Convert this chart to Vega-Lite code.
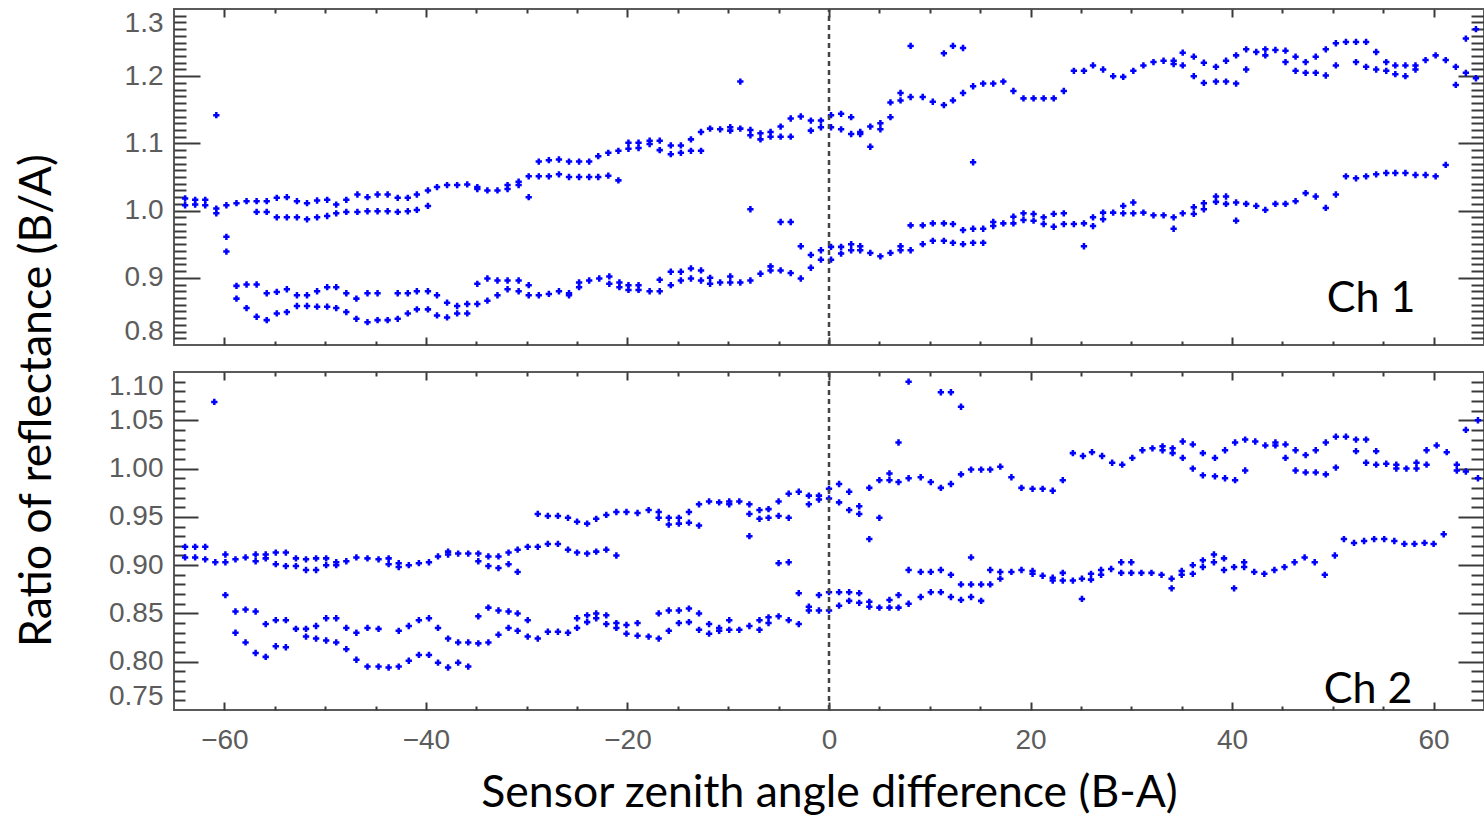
{
"$schema": "https://vega.github.io/schema/vega-lite/v6.json",
"background": "white",
"autosize": {"type": "pad"},
"padding": {"left": 13, "top": 6, "right": 0, "bottom": 0},
"config": {
  "view": {"stroke": "#5a5a5a", "strokeWidth": 2},
  "axis": {"domain": false, "grid": false, "labelFont": "Liberation Sans", "labelFontSize": 28, "labelColor": "#5c5c5c", "tickColor": "#3a3a3a", "tickWidth": 2, "titleFont": "Lato", "titleFontWeight": "normal", "titleColor": "#000000", "titleFontSize": 44.5}
},
"datasets": {
"ch1": [
{"x":-63.9,"y":1.018},{"x":-63.9,"y":1.008},{"x":-62.9,"y":1.016},{"x":-62.9,"y":1.009},{"x":-61.9,"y":1.016},{"x":-61.9,"y":1.008},{"x":-60.8,"y":1.003},{"x":-60.8,"y":0.996},{"x":-60.8,"y":1.142},{"x":-59.8,"y":1.008},{"x":-59.8,"y":0.961},{"x":-59.8,"y":0.939},{"x":-58.8,"y":1.011},{"x":-57.8,"y":1.014},{"x":-56.8,"y":1.014},{"x":-56.8,"y":0.998},{"x":-55.8,"y":1.014},{"x":-55.8,"y":0.998},{"x":-54.8,"y":1.019},{"x":-54.8,"y":0.990},{"x":-53.8,"y":1.020},{"x":-53.8,"y":0.990},{"x":-52.8,"y":1.014},{"x":-52.8,"y":0.990},{"x":-51.8,"y":1.011},{"x":-51.8,"y":0.987},{"x":-50.8,"y":1.015},{"x":-50.8,"y":0.990},{"x":-49.8,"y":1.016},{"x":-49.8,"y":0.992},{"x":-48.9,"y":1.009},{"x":-48.9,"y":0.996},{"x":-47.9,"y":1.016},{"x":-47.9,"y":0.998},{"x":-46.8,"y":1.024},{"x":-46.8,"y":0.998},{"x":-45.8,"y":1.020},{"x":-45.8,"y":0.999},{"x":-44.8,"y":1.024},{"x":-44.8,"y":0.999},{"x":-43.8,"y":1.024},{"x":-43.8,"y":0.999},{"x":-42.8,"y":1.019},{"x":-42.8,"y":0.998},{"x":-41.8,"y":1.019},{"x":-41.8,"y":0.999},{"x":-40.9,"y":1.024},{"x":-40.9,"y":1.001},{"x":-39.8,"y":1.030},{"x":-39.8,"y":1.007},{"x":-38.9,"y":1.035},{"x":-37.9,"y":1.038},{"x":-36.9,"y":1.038},{"x":-35.9,"y":1.039},{"x":-34.9,"y":1.035},{"x":-34.9,"y":1.032},{"x":-33.9,"y":1.030},{"x":-32.9,"y":1.030},{"x":-31.9,"y":1.038},{"x":-31.9,"y":1.032},{"x":-30.8,"y":1.043},{"x":-30.8,"y":1.038},{"x":-29.8,"y":1.051},{"x":-29.8,"y":1.020},{"x":-28.8,"y":1.073},{"x":-28.8,"y":1.051},{"x":-27.8,"y":1.075},{"x":-27.8,"y":1.051},{"x":-26.8,"y":1.076},{"x":-26.8,"y":1.054},{"x":-25.8,"y":1.073},{"x":-25.8,"y":1.050},{"x":-24.8,"y":1.073},{"x":-24.8,"y":1.050},{"x":-23.8,"y":1.073},{"x":-23.8,"y":1.050},{"x":-22.9,"y":1.081},{"x":-22.9,"y":1.050},{"x":-21.9,"y":1.086},{"x":-21.9,"y":1.052},{"x":-20.9,"y":1.089},{"x":-20.9,"y":1.045},{"x":-19.9,"y":1.101},{"x":-19.9,"y":1.092},{"x":-18.9,"y":1.101},{"x":-18.9,"y":1.093},{"x":-17.8,"y":1.104},{"x":-17.8,"y":1.099},{"x":-16.8,"y":1.104},{"x":-16.8,"y":1.090},{"x":-15.7,"y":1.097},{"x":-15.7,"y":1.084},{"x":-14.7,"y":1.097},{"x":-14.7,"y":1.086},{"x":-13.7,"y":1.106},{"x":-13.7,"y":1.089},{"x":-12.7,"y":1.117},{"x":-12.7,"y":1.089},{"x":-11.8,"y":1.122},{"x":-10.8,"y":1.121},{"x":-9.8,"y":1.124},{"x":-9.8,"y":1.119},{"x":-8.8,"y":1.122},{"x":-8.8,"y":1.192},{"x":-7.8,"y":1.120},{"x":-7.8,"y":1.112},{"x":-6.8,"y":1.115},{"x":-6.8,"y":1.106},{"x":-5.8,"y":1.117},{"x":-5.8,"y":1.110},{"x":-4.8,"y":1.125},{"x":-4.8,"y":1.110},{"x":-3.8,"y":1.137},{"x":-3.8,"y":1.110},{"x":-2.8,"y":1.140},{"x":-1.8,"y":1.134},{"x":-1.8,"y":1.119},{"x":-0.8,"y":1.134},{"x":-0.8,"y":1.124},{"x":0.2,"y":1.142},{"x":0.2,"y":1.124},{"x":1.2,"y":1.144},{"x":1.2,"y":1.121},{"x":2.2,"y":1.139},{"x":2.2,"y":1.114},{"x":3.1,"y":1.117},{"x":3.1,"y":1.114},{"x":4.1,"y":1.125},{"x":4.1,"y":1.095},{"x":5.1,"y":1.130},{"x":5.1,"y":1.121},{"x":6.1,"y":1.139},{"x":6.1,"y":1.161},{"x":7.1,"y":1.164},{"x":7.1,"y":1.175},{"x":8.1,"y":1.169},{"x":8.1,"y":1.245},{"x":9.3,"y":1.169},{"x":10.3,"y":1.162},{"x":11.4,"y":1.157},{"x":11.4,"y":1.234},{"x":12.3,"y":1.164},{"x":12.3,"y":1.245},{"x":13.3,"y":1.175},{"x":13.3,"y":1.242},{"x":14.3,"y":1.185},{"x":15.3,"y":1.189},{"x":16.3,"y":1.189},{"x":17.3,"y":1.192},{"x":18.3,"y":1.178},{"x":19.3,"y":1.167},{"x":20.3,"y":1.167},{"x":21.3,"y":1.167},{"x":22.3,"y":1.167},{"x":23.3,"y":1.178},{"x":24.3,"y":1.208},{"x":25.3,"y":1.208},{"x":26.2,"y":1.216},{"x":27.2,"y":1.210},{"x":28.2,"y":1.200},{"x":29.2,"y":1.199},{"x":30.2,"y":1.208},{"x":31.2,"y":1.216},{"x":32.2,"y":1.221},{"x":33.2,"y":1.223},{"x":34.2,"y":1.223},{"x":34.2,"y":1.218},{"x":35.1,"y":1.235},{"x":35.1,"y":1.216},{"x":36.2,"y":1.229},{"x":36.2,"y":1.200},{"x":37.2,"y":1.220},{"x":37.2,"y":1.190},{"x":38.4,"y":1.214},{"x":38.4,"y":1.192},{"x":39.4,"y":1.223},{"x":39.4,"y":1.192},{"x":40.4,"y":1.231},{"x":40.4,"y":1.189},{"x":41.4,"y":1.240},{"x":41.4,"y":1.210},{"x":42.4,"y":1.236},{"x":43.3,"y":1.240},{"x":43.3,"y":1.231},{"x":44.3,"y":1.239},{"x":45.3,"y":1.238},{"x":45.3,"y":1.221},{"x":46.3,"y":1.229},{"x":46.3,"y":1.208},{"x":47.3,"y":1.221},{"x":47.3,"y":1.205},{"x":48.3,"y":1.229},{"x":48.3,"y":1.205},{"x":49.3,"y":1.240},{"x":49.3,"y":1.201},{"x":50.3,"y":1.249},{"x":50.3,"y":1.216},{"x":51.3,"y":1.251},{"x":52.3,"y":1.251},{"x":52.3,"y":1.221},{"x":53.3,"y":1.251},{"x":53.3,"y":1.214},{"x":54.3,"y":1.236},{"x":54.3,"y":1.210},{"x":55.3,"y":1.221},{"x":55.3,"y":1.208},{"x":56.2,"y":1.216},{"x":56.2,"y":1.203},{"x":57.2,"y":1.216},{"x":57.2,"y":1.200},{"x":58.2,"y":1.216},{"x":58.2,"y":1.210},{"x":59.2,"y":1.224},{"x":60.2,"y":1.231},{"x":61.2,"y":1.224},{"x":62.2,"y":1.214},{"x":62.2,"y":1.187},{"x":63.2,"y":1.256},{"x":63.2,"y":1.205},{"x":64.2,"y":1.270},{"x":64.2,"y":1.197},
{"x":-58.8,"y":0.888},{"x":-58.8,"y":0.869},{"x":-57.8,"y":0.890},{"x":-57.8,"y":0.855},{"x":-56.8,"y":0.890},{"x":-56.8,"y":0.842},{"x":-55.8,"y":0.877},{"x":-55.8,"y":0.837},{"x":-54.8,"y":0.879},{"x":-54.8,"y":0.847},{"x":-53.8,"y":0.883},{"x":-53.8,"y":0.849},{"x":-52.8,"y":0.874},{"x":-52.8,"y":0.858},{"x":-51.8,"y":0.874},{"x":-51.8,"y":0.858},{"x":-50.8,"y":0.880},{"x":-50.8,"y":0.857},{"x":-49.8,"y":0.886},{"x":-49.8,"y":0.857},{"x":-48.9,"y":0.886},{"x":-48.9,"y":0.855},{"x":-47.9,"y":0.877},{"x":-47.9,"y":0.849},{"x":-46.9,"y":0.869},{"x":-46.9,"y":0.839},{"x":-45.8,"y":0.877},{"x":-45.8,"y":0.834},{"x":-44.8,"y":0.877},{"x":-44.8,"y":0.837},{"x":-43.8,"y":0.837},{"x":-42.8,"y":0.877},{"x":-42.8,"y":0.839},{"x":-41.8,"y":0.877},{"x":-41.8,"y":0.847},{"x":-40.9,"y":0.880},{"x":-40.9,"y":0.853},{"x":-39.8,"y":0.880},{"x":-39.8,"y":0.853},{"x":-38.9,"y":0.874},{"x":-38.9,"y":0.844},{"x":-37.9,"y":0.863},{"x":-37.9,"y":0.841},{"x":-36.9,"y":0.858},{"x":-36.9,"y":0.847},{"x":-35.9,"y":0.861},{"x":-35.9,"y":0.847},{"x":-34.9,"y":0.861},{"x":-34.9,"y":0.891},{"x":-33.9,"y":0.866},{"x":-33.9,"y":0.899},{"x":-32.9,"y":0.874},{"x":-32.9,"y":0.896},{"x":-31.9,"y":0.883},{"x":-31.9,"y":0.896},{"x":-30.8,"y":0.880},{"x":-30.8,"y":0.896},{"x":-29.8,"y":0.874},{"x":-29.8,"y":0.889},{"x":-28.8,"y":0.874},{"x":-27.8,"y":0.876},{"x":-26.8,"y":0.880},{"x":-25.8,"y":0.874},{"x":-25.8,"y":0.877},{"x":-24.8,"y":0.893},{"x":-24.8,"y":0.886},{"x":-23.8,"y":0.896},{"x":-22.8,"y":0.899},{"x":-21.8,"y":0.902},{"x":-21.8,"y":0.891},{"x":-20.8,"y":0.893},{"x":-20.8,"y":0.886},{"x":-19.9,"y":0.889},{"x":-19.9,"y":0.882},{"x":-18.9,"y":0.889},{"x":-18.9,"y":0.882},{"x":-17.8,"y":0.880},{"x":-16.8,"y":0.880},{"x":-16.8,"y":0.897},{"x":-15.7,"y":0.909},{"x":-15.7,"y":0.889},{"x":-14.7,"y":0.909},{"x":-14.7,"y":0.896},{"x":-13.7,"y":0.914},{"x":-13.7,"y":0.899},{"x":-12.7,"y":0.911},{"x":-12.7,"y":0.896},{"x":-11.8,"y":0.900},{"x":-11.8,"y":0.891},{"x":-10.8,"y":0.893},{"x":-9.8,"y":0.902},{"x":-9.8,"y":0.893},{"x":-8.8,"y":0.893},{"x":-7.8,"y":0.896},{"x":-7.8,"y":1.002},{"x":-6.8,"y":0.906},{"x":-5.8,"y":0.917},{"x":-5.8,"y":0.911},{"x":-4.8,"y":0.911},{"x":-4.8,"y":0.983},{"x":-3.8,"y":0.907},{"x":-3.8,"y":0.983},{"x":-2.8,"y":0.899},{"x":-2.8,"y":0.947},{"x":-1.8,"y":0.915},{"x":-1.8,"y":0.934},{"x":-0.8,"y":0.927},{"x":-0.8,"y":0.941},{"x":0.2,"y":0.927},{"x":0.2,"y":0.946},{"x":1.2,"y":0.936},{"x":1.2,"y":0.946},{"x":2.2,"y":0.941},{"x":2.2,"y":0.950},{"x":3.1,"y":0.941},{"x":3.1,"y":0.947},{"x":4.1,"y":0.937},{"x":5.1,"y":0.932},{"x":6.1,"y":0.937},{"x":7.1,"y":0.941},{"x":7.1,"y":0.947},{"x":8.1,"y":0.941},{"x":8.1,"y":0.978},{"x":9.3,"y":0.950},{"x":9.3,"y":0.978},{"x":10.3,"y":0.955},{"x":10.3,"y":0.981},{"x":11.4,"y":0.955},{"x":11.4,"y":0.981},{"x":12.3,"y":0.952},{"x":12.3,"y":0.980},{"x":13.3,"y":0.950},{"x":13.3,"y":0.971},{"x":14.3,"y":0.952},{"x":14.3,"y":0.973},{"x":14.3,"y":1.072},{"x":15.3,"y":0.952},{"x":15.3,"y":0.973},{"x":16.3,"y":0.977},{"x":16.3,"y":0.983},{"x":17.3,"y":0.981},{"x":18.3,"y":0.991},{"x":18.3,"y":0.981},{"x":19.3,"y":0.996},{"x":19.3,"y":0.986},{"x":20.3,"y":0.995},{"x":20.3,"y":0.985},{"x":21.3,"y":0.990},{"x":21.3,"y":0.980},{"x":22.3,"y":0.995},{"x":22.3,"y":0.976},{"x":23.3,"y":0.996},{"x":23.3,"y":0.980},{"x":24.3,"y":0.980},{"x":25.3,"y":0.981},{"x":25.3,"y":0.947},{"x":26.2,"y":0.990},{"x":26.2,"y":0.977},{"x":27.2,"y":0.997},{"x":27.2,"y":0.987},{"x":28.2,"y":0.997},{"x":29.2,"y":1.007},{"x":29.2,"y":0.996},{"x":30.2,"y":1.012},{"x":30.2,"y":0.996},{"x":31.2,"y":0.997},{"x":32.2,"y":0.993},{"x":33.2,"y":0.993},{"x":34.2,"y":0.990},{"x":34.2,"y":0.973},{"x":35.1,"y":0.996},{"x":36.2,"y":1.005},{"x":36.2,"y":0.995},{"x":37.2,"y":1.011},{"x":37.2,"y":1.002},{"x":38.4,"y":1.021},{"x":38.4,"y":1.013},{"x":39.4,"y":1.021},{"x":39.4,"y":1.010},{"x":40.4,"y":1.012},{"x":40.4,"y":0.985},{"x":41.4,"y":1.010},{"x":42.4,"y":1.007},{"x":43.3,"y":1.001},{"x":44.3,"y":1.010},{"x":45.3,"y":1.010},{"x":46.3,"y":1.014},{"x":47.3,"y":1.026},{"x":48.3,"y":1.021},{"x":49.3,"y":1.004},{"x":50.3,"y":1.024},{"x":51.3,"y":1.051},{"x":52.3,"y":1.048},{"x":53.3,"y":1.051},{"x":54.3,"y":1.054},{"x":55.3,"y":1.056},{"x":56.2,"y":1.056},{"x":57.2,"y":1.056},{"x":58.2,"y":1.053},{"x":59.2,"y":1.053},{"x":60.2,"y":1.051},{"x":61.2,"y":1.068}
],
"ch2": [
{"x":-63.9,"y":0.919},{"x":-63.9,"y":0.908},{"x":-62.9,"y":0.919},{"x":-62.9,"y":0.908},{"x":-61.9,"y":0.919},{"x":-61.9,"y":0.906},{"x":-61.0,"y":1.069},{"x":-60.9,"y":0.903},{"x":-59.9,"y":0.911},{"x":-59.9,"y":0.903},{"x":-59.9,"y":0.869},{"x":-58.9,"y":0.906},{"x":-57.9,"y":0.908},{"x":-56.9,"y":0.911},{"x":-56.9,"y":0.904},{"x":-55.9,"y":0.911},{"x":-55.9,"y":0.907},{"x":-54.9,"y":0.913},{"x":-54.9,"y":0.901},{"x":-53.9,"y":0.913},{"x":-53.9,"y":0.899},{"x":-52.9,"y":0.907},{"x":-52.9,"y":0.899},{"x":-51.9,"y":0.906},{"x":-51.9,"y":0.895},{"x":-50.9,"y":0.907},{"x":-50.9,"y":0.895},{"x":-49.9,"y":0.907},{"x":-49.9,"y":0.900},{"x":-48.9,"y":0.903},{"x":-48.9,"y":0.900},{"x":-47.9,"y":0.904},{"x":-46.9,"y":0.908},{"x":-45.8,"y":0.907},{"x":-44.7,"y":0.906},{"x":-43.7,"y":0.907},{"x":-43.7,"y":0.901},{"x":-42.7,"y":0.902},{"x":-42.7,"y":0.898},{"x":-41.7,"y":0.900},{"x":-40.7,"y":0.902},{"x":-39.7,"y":0.903},{"x":-38.8,"y":0.909},{"x":-37.8,"y":0.914},{"x":-37.8,"y":0.911},{"x":-36.8,"y":0.912},{"x":-35.8,"y":0.912},{"x":-34.8,"y":0.912},{"x":-34.8,"y":0.904},{"x":-33.8,"y":0.909},{"x":-33.8,"y":0.899},{"x":-32.8,"y":0.909},{"x":-32.8,"y":0.897},{"x":-31.8,"y":0.913},{"x":-31.8,"y":0.901},{"x":-30.9,"y":0.916},{"x":-30.9,"y":0.893},{"x":-29.9,"y":0.919},{"x":-28.9,"y":0.919},{"x":-28.9,"y":0.953},{"x":-27.9,"y":0.922},{"x":-27.9,"y":0.951},{"x":-26.9,"y":0.922},{"x":-26.9,"y":0.951},{"x":-25.9,"y":0.916},{"x":-25.9,"y":0.949},{"x":-25.0,"y":0.913},{"x":-25.0,"y":0.945},{"x":-24.0,"y":0.912},{"x":-24.0,"y":0.943},{"x":-23.1,"y":0.914},{"x":-23.1,"y":0.948},{"x":-22.1,"y":0.916},{"x":-22.1,"y":0.952},{"x":-21.1,"y":0.910},{"x":-21.1,"y":0.955},{"x":-20.1,"y":0.955},{"x":-19.0,"y":0.954},{"x":-17.9,"y":0.957},{"x":-16.9,"y":0.955},{"x":-16.9,"y":0.949},{"x":-15.9,"y":0.949},{"x":-15.9,"y":0.942},{"x":-14.9,"y":0.949},{"x":-14.9,"y":0.943},{"x":-13.9,"y":0.955},{"x":-13.9,"y":0.944},{"x":-12.9,"y":0.963},{"x":-12.9,"y":0.941},{"x":-11.9,"y":0.966},{"x":-10.9,"y":0.965},{"x":-9.9,"y":0.966},{"x":-9.9,"y":0.963},{"x":-8.9,"y":0.966},{"x":-7.9,"y":0.963},{"x":-7.9,"y":0.953},{"x":-7.9,"y":0.930},{"x":-6.9,"y":0.957},{"x":-6.9,"y":0.948},{"x":-6.0,"y":0.958},{"x":-6.0,"y":0.949},{"x":-5.0,"y":0.966},{"x":-5.0,"y":0.951},{"x":-5.0,"y":0.902},{"x":-4.0,"y":0.974},{"x":-4.0,"y":0.949},{"x":-4.0,"y":0.903},{"x":-3.0,"y":0.976},{"x":-2.0,"y":0.972},{"x":-2.0,"y":0.963},{"x":-1.0,"y":0.972},{"x":-1.0,"y":0.968},{"x":0.0,"y":0.979},{"x":0.0,"y":0.969},{"x":1.0,"y":0.984},{"x":1.0,"y":0.965},{"x":2.0,"y":0.976},{"x":2.0,"y":0.957},{"x":3.0,"y":0.961},{"x":3.0,"y":0.953},{"x":4.0,"y":0.980},{"x":4.0,"y":0.927},{"x":5.0,"y":0.988},{"x":5.0,"y":0.949},{"x":6.0,"y":0.995},{"x":6.0,"y":0.988},{"x":6.9,"y":0.986},{"x":6.9,"y":1.027},{"x":7.9,"y":0.990},{"x":7.9,"y":1.090},{"x":9.1,"y":0.991},{"x":10.1,"y":0.986},{"x":11.1,"y":0.980},{"x":11.1,"y":1.079},{"x":12.1,"y":0.984},{"x":12.1,"y":1.079},{"x":13.1,"y":0.994},{"x":13.1,"y":1.064},{"x":14.1,"y":0.999},{"x":15.1,"y":0.999},{"x":16.0,"y":0.999},{"x":17.0,"y":1.002},{"x":18.1,"y":0.991},{"x":19.1,"y":0.980},{"x":20.2,"y":0.979},{"x":21.2,"y":0.979},{"x":22.2,"y":0.977},{"x":23.2,"y":0.988},{"x":24.2,"y":1.016},{"x":25.2,"y":1.013},{"x":26.1,"y":1.017},{"x":27.1,"y":1.013},{"x":28.1,"y":1.006},{"x":29.1,"y":1.004},{"x":30.1,"y":1.011},{"x":31.1,"y":1.019},{"x":32.1,"y":1.021},{"x":33.1,"y":1.023},{"x":33.1,"y":1.019},{"x":34.1,"y":1.021},{"x":34.1,"y":1.016},{"x":35.1,"y":1.028},{"x":35.1,"y":1.011},{"x":36.1,"y":1.025},{"x":36.1,"y":1.000},{"x":37.1,"y":1.016},{"x":37.1,"y":0.993},{"x":38.3,"y":1.011},{"x":38.3,"y":0.992},{"x":39.3,"y":1.019},{"x":39.3,"y":0.990},{"x":40.3,"y":1.027},{"x":40.3,"y":0.988},{"x":41.3,"y":1.030},{"x":41.3,"y":0.998},{"x":42.3,"y":1.028},{"x":43.3,"y":1.024},{"x":44.3,"y":1.027},{"x":44.3,"y":1.024},{"x":45.3,"y":1.025},{"x":45.3,"y":1.011},{"x":46.3,"y":1.019},{"x":46.3,"y":0.998},{"x":47.3,"y":1.014},{"x":47.3,"y":0.996},{"x":48.3,"y":1.019},{"x":48.3,"y":0.996},{"x":49.3,"y":1.027},{"x":49.3,"y":0.994},{"x":50.3,"y":1.033},{"x":50.3,"y":1.001},{"x":51.3,"y":1.033},{"x":52.3,"y":1.030},{"x":52.3,"y":1.018},{"x":53.3,"y":1.030},{"x":53.3,"y":1.006},{"x":54.3,"y":1.018},{"x":54.3,"y":1.004},{"x":55.3,"y":1.005},{"x":56.3,"y":1.004},{"x":56.3,"y":1.000},{"x":57.3,"y":1.000},{"x":58.3,"y":1.006},{"x":58.3,"y":1.000},{"x":59.3,"y":1.019},{"x":59.3,"y":1.004},{"x":60.3,"y":1.024},{"x":61.3,"y":1.017},{"x":62.3,"y":1.004},{"x":62.3,"y":0.998},{"x":63.2,"y":1.040},{"x":63.2,"y":0.997},{"x":64.4,"y":1.050},{"x":64.4,"y":0.990},
{"x":-58.9,"y":0.852},{"x":-58.9,"y":0.830},{"x":-57.9,"y":0.854},{"x":-57.9,"y":0.820},{"x":-56.9,"y":0.852},{"x":-56.9,"y":0.809},{"x":-55.9,"y":0.839},{"x":-55.9,"y":0.805},{"x":-54.9,"y":0.843},{"x":-54.9,"y":0.816},{"x":-53.9,"y":0.843},{"x":-53.9,"y":0.815},{"x":-52.9,"y":0.834},{"x":-51.9,"y":0.834},{"x":-51.9,"y":0.826},{"x":-50.9,"y":0.837},{"x":-50.9,"y":0.824},{"x":-49.9,"y":0.845},{"x":-49.9,"y":0.822},{"x":-48.9,"y":0.845},{"x":-48.9,"y":0.820},{"x":-47.9,"y":0.835},{"x":-47.9,"y":0.813},{"x":-46.9,"y":0.830},{"x":-46.9,"y":0.802},{"x":-45.8,"y":0.835},{"x":-45.8,"y":0.795},{"x":-44.7,"y":0.834},{"x":-44.7,"y":0.795},{"x":-43.7,"y":0.794},{"x":-42.7,"y":0.832},{"x":-42.7,"y":0.795},{"x":-41.7,"y":0.837},{"x":-41.7,"y":0.801},{"x":-40.7,"y":0.843},{"x":-40.7,"y":0.807},{"x":-39.7,"y":0.845},{"x":-39.7,"y":0.807},{"x":-38.8,"y":0.835},{"x":-38.8,"y":0.799},{"x":-37.8,"y":0.824},{"x":-37.8,"y":0.794},{"x":-36.8,"y":0.820},{"x":-36.8,"y":0.799},{"x":-35.8,"y":0.820},{"x":-35.8,"y":0.795},{"x":-34.8,"y":0.847},{"x":-34.8,"y":0.819},{"x":-33.8,"y":0.856},{"x":-33.8,"y":0.820},{"x":-32.8,"y":0.853},{"x":-32.8,"y":0.828},{"x":-31.8,"y":0.852},{"x":-31.8,"y":0.835},{"x":-30.9,"y":0.850},{"x":-30.9,"y":0.832},{"x":-29.9,"y":0.843},{"x":-29.9,"y":0.826},{"x":-28.9,"y":0.824},{"x":-27.9,"y":0.831},{"x":-26.9,"y":0.831},{"x":-25.9,"y":0.830},{"x":-25.0,"y":0.845},{"x":-25.0,"y":0.835},{"x":-24.0,"y":0.848},{"x":-24.0,"y":0.841},{"x":-23.1,"y":0.850},{"x":-23.1,"y":0.845},{"x":-22.1,"y":0.848},{"x":-22.1,"y":0.839},{"x":-21.1,"y":0.840},{"x":-21.1,"y":0.835},{"x":-20.1,"y":0.838},{"x":-20.1,"y":0.829},{"x":-19.0,"y":0.840},{"x":-19.0,"y":0.827},{"x":-17.9,"y":0.826},{"x":-16.9,"y":0.850},{"x":-16.9,"y":0.824},{"x":-15.9,"y":0.853},{"x":-15.9,"y":0.832},{"x":-14.9,"y":0.853},{"x":-14.9,"y":0.840},{"x":-13.9,"y":0.855},{"x":-13.9,"y":0.841},{"x":-12.9,"y":0.850},{"x":-12.9,"y":0.833},{"x":-11.9,"y":0.839},{"x":-11.9,"y":0.829},{"x":-10.9,"y":0.835},{"x":-10.9,"y":0.832},{"x":-9.9,"y":0.843},{"x":-9.9,"y":0.833},{"x":-8.9,"y":0.833},{"x":-7.9,"y":0.837},{"x":-6.9,"y":0.843},{"x":-6.9,"y":0.833},{"x":-6.0,"y":0.846},{"x":-6.0,"y":0.840},{"x":-5.0,"y":0.847},{"x":-4.0,"y":0.843},{"x":-3.0,"y":0.839},{"x":-3.0,"y":0.871},{"x":-2.0,"y":0.857},{"x":-2.0,"y":0.853},{"x":-1.0,"y":0.869},{"x":-1.0,"y":0.853},{"x":0.0,"y":0.872},{"x":0.0,"y":0.853},{"x":1.0,"y":0.872},{"x":1.0,"y":0.858},{"x":2.0,"y":0.872},{"x":2.0,"y":0.863},{"x":3.0,"y":0.871},{"x":3.0,"y":0.861},{"x":4.0,"y":0.862},{"x":4.0,"y":0.857},{"x":5.0,"y":0.856},{"x":6.0,"y":0.856},{"x":6.0,"y":0.864},{"x":6.9,"y":0.869},{"x":6.9,"y":0.856},{"x":7.9,"y":0.895},{"x":7.9,"y":0.860},{"x":9.1,"y":0.893},{"x":9.1,"y":0.867},{"x":10.1,"y":0.893},{"x":10.1,"y":0.872},{"x":11.1,"y":0.895},{"x":11.1,"y":0.872},{"x":12.1,"y":0.890},{"x":12.1,"y":0.867},{"x":13.1,"y":0.880},{"x":13.1,"y":0.864},{"x":14.1,"y":0.880},{"x":14.1,"y":0.867},{"x":14.1,"y":0.908},{"x":15.1,"y":0.880},{"x":15.1,"y":0.863},{"x":16.0,"y":0.895},{"x":16.0,"y":0.880},{"x":17.0,"y":0.893},{"x":17.0,"y":0.886},{"x":18.1,"y":0.893},{"x":19.1,"y":0.895},{"x":20.2,"y":0.894},{"x":20.2,"y":0.891},{"x":21.2,"y":0.889},{"x":22.2,"y":0.887},{"x":22.2,"y":0.884},{"x":23.2,"y":0.892},{"x":23.2,"y":0.884},{"x":24.2,"y":0.884},{"x":25.1,"y":0.886},{"x":25.1,"y":0.865},{"x":26.0,"y":0.891},{"x":26.0,"y":0.885},{"x":27.0,"y":0.895},{"x":27.0,"y":0.890},{"x":28.0,"y":0.896},{"x":29.0,"y":0.903},{"x":29.0,"y":0.892},{"x":30.0,"y":0.903},{"x":30.0,"y":0.892},{"x":31.0,"y":0.892},{"x":32.0,"y":0.892},{"x":33.0,"y":0.890},{"x":34.0,"y":0.886},{"x":34.0,"y":0.876},{"x":35.0,"y":0.894},{"x":35.0,"y":0.890},{"x":36.1,"y":0.900},{"x":36.1,"y":0.891},{"x":37.1,"y":0.905},{"x":37.1,"y":0.898},{"x":38.2,"y":0.911},{"x":38.2,"y":0.903},{"x":39.2,"y":0.907},{"x":39.2,"y":0.895},{"x":40.2,"y":0.898},{"x":40.2,"y":0.876},{"x":41.2,"y":0.903},{"x":41.2,"y":0.898},{"x":42.2,"y":0.893},{"x":43.2,"y":0.891},{"x":44.2,"y":0.895},{"x":45.2,"y":0.898},{"x":46.2,"y":0.903},{"x":47.2,"y":0.908},{"x":48.2,"y":0.903},{"x":49.2,"y":0.890},{"x":50.2,"y":0.910},{"x":51.1,"y":0.927},{"x":52.1,"y":0.923},{"x":53.1,"y":0.925},{"x":54.1,"y":0.927},{"x":55.1,"y":0.927},{"x":56.1,"y":0.925},{"x":57.1,"y":0.922},{"x":58.1,"y":0.922},{"x":59.1,"y":0.923},{"x":60.0,"y":0.922},{"x":61.0,"y":0.932}
]
},
"spacing": 27,
"bounds": "flush",
"vconcat": [
{
  "width": 1310, "height": 336,
  "resolve": {"axis": {"x": "independent", "y": "independent"}},
  "layer": [
    {
      "data": {"name": "ch1"},
      "mark": {"type": "point", "shape": "cross", "filled": true, "color": "#0000ff", "size": 40, "opacity": 1},
      "encoding": {
        "x": {"field": "x", "type": "quantitative", "scale": {"domain": [-65, 65], "nice": false, "zero": false}, "axis": {"orient": "bottom", "values": [-60,-40,-20,0,20,40,60], "labels": false, "tickSize": -8, "title": null}},
        "y": {"field": "y", "type": "quantitative", "scale": {"domain": [0.8, 1.3], "nice": false, "zero": false}, "axis": {"orient": "left", "values": [0.8,0.9,1.0,1.1,1.2,1.3], "format": ".1f", "ticks": false, "tickSize": 0, "labelPadding": 11, "labelFlush": true, "title": "Ratio of reflectance (B/A)", "titleX": -137, "titleY": 391, "titleAngle": 270, "titleAlign": "center", "titleBaseline": "middle"}}
      }
    },
    {
      "data": {"values": [{}]},
      "mark": {"type": "rule", "color": "#444444", "strokeWidth": 2.5, "strokeDash": [5, 4]},
      "encoding": {
        "x": {"datum": 0, "type": "quantitative", "scale": {"domain": [-65, 65], "nice": false, "zero": false}, "axis": {"orient": "bottom", "values": [-55,-50,-45,-35,-30,-25,-15,-10,-5,5,10,15,25,30,35,45,50,55], "labels": false, "tickSize": -4, "title": null}},
        "y": {"datum": 0.8, "type": "quantitative", "scale": {"domain": [0.8, 1.3], "nice": false, "zero": false}, "axis": {"orient": "left", "values": [0.9,1.0,1.1,1.2], "labels": false, "tickSize": -26, "title": null}},
        "y2": {"datum": 1.3}
      }
    },
    {
      "data": {"values": [{}]},
      "mark": {"type": "text", "text": "Ch 1", "font": "Lato", "fontSize": 43, "color": "#000000", "align": "center", "baseline": "middle"},
      "encoding": {
        "x": {"datum": 53.8, "type": "quantitative", "scale": {"domain": [-65, 65], "nice": false, "zero": false}, "axis": {"orient": "top", "values": [-60,-40,-20,0,20,40,60], "labels": false, "tickSize": -8, "title": null}},
        "y": {"datum": 0.868, "type": "quantitative", "scale": {"domain": [0.8, 1.3], "nice": false, "zero": false}, "axis": {"orient": "left", "values": [0.81,0.82,0.83,0.84,0.85,0.86,0.87,0.88,0.89,0.91,0.92,0.93,0.94,0.95,0.96,0.97,0.98,0.99,1.01,1.02,1.03,1.04,1.05,1.06,1.07,1.08,1.09,1.11,1.12,1.13,1.14,1.15,1.16,1.17,1.18,1.19,1.21,1.22,1.23,1.24,1.25,1.26,1.27,1.28,1.29], "labels": false, "tickSize": -12, "title": null}}
      }
    },
    {
      "data": {"name": "ch1"},
      "mark": {"type": "point", "opacity": 0},
      "encoding": {
        "x": {"field": "x", "type": "quantitative", "scale": {"domain": [-65, 65], "nice": false, "zero": false}, "axis": {"orient": "top", "values": [-55,-50,-45,-35,-30,-25,-15,-10,-5,5,10,15,25,30,35,45,50,55], "labels": false, "tickSize": -4, "title": null}},
        "y": {"field": "y", "type": "quantitative", "scale": {"domain": [0.8, 1.3], "nice": false, "zero": false}, "axis": {"orient": "right", "values": [0.9,1.0,1.1,1.2], "labels": false, "tickSize": -26, "title": null}}
      }
    },
    {
      "data": {"name": "ch1"},
      "mark": {"type": "point", "opacity": 0},
      "encoding": {
        "x": {"field": "x", "type": "quantitative", "scale": {"domain": [-65, 65], "nice": false, "zero": false}, "axis": null},
        "y": {"field": "y", "type": "quantitative", "scale": {"domain": [0.8, 1.3], "nice": false, "zero": false}, "axis": {"orient": "right", "values": [0.81,0.82,0.83,0.84,0.85,0.86,0.87,0.88,0.89,0.91,0.92,0.93,0.94,0.95,0.96,0.97,0.98,0.99,1.01,1.02,1.03,1.04,1.05,1.06,1.07,1.08,1.09,1.11,1.12,1.13,1.14,1.15,1.16,1.17,1.18,1.19,1.21,1.22,1.23,1.24,1.25,1.26,1.27,1.28,1.29], "labels": false, "tickSize": -13, "title": null}}
      }
    }
  ]
},
{
  "width": 1310, "height": 338,
  "resolve": {"axis": {"x": "independent", "y": "independent"}},
  "layer": [
    {
      "data": {"name": "ch2"},
      "mark": {"type": "point", "shape": "cross", "filled": true, "color": "#0000ff", "size": 40, "opacity": 1},
      "encoding": {
        "x": {"field": "x", "type": "quantitative", "scale": {"domain": [-65, 65], "nice": false, "zero": false}, "axis": {"orient": "bottom", "values": [-60,-40,-20,0,20,40,60], "ticks": false, "tickSize": 0, "labelPadding": 16, "title": "Sensor zenith angle difference (B-A)", "titleY": 83, "titleBaseline": "middle"}},
        "y": {"field": "y", "type": "quantitative", "scale": {"domain": [0.75, 1.1], "nice": false, "zero": false}, "axis": {"orient": "left", "values": [0.75,0.8,0.85,0.9,0.95,1.0,1.05,1.1], "format": ".2f", "ticks": false, "tickSize": 0, "labelPadding": 11, "labelFlush": true, "title": null}}
      }
    },
    {
      "data": {"values": [{}]},
      "mark": {"type": "rule", "color": "#444444", "strokeWidth": 2.5, "strokeDash": [5, 4]},
      "encoding": {
        "x": {"datum": 0, "type": "quantitative", "scale": {"domain": [-65, 65], "nice": false, "zero": false}, "axis": {"orient": "bottom", "values": [-60,-40,-20,0,20,40,60], "labels": false, "tickSize": -8, "title": null}},
        "y": {"datum": 0.75, "type": "quantitative", "scale": {"domain": [0.75, 1.1], "nice": false, "zero": false}, "axis": {"orient": "left", "values": [0.8,0.85,0.9,0.95,1.0,1.05], "labels": false, "tickSize": -24, "title": null}},
        "y2": {"datum": 1.1}
      }
    },
    {
      "data": {"values": [{}]},
      "mark": {"type": "text", "text": "Ch 2", "font": "Lato", "fontSize": 43, "color": "#000000", "align": "center", "baseline": "middle"},
      "encoding": {
        "x": {"datum": 53.5, "type": "quantitative", "scale": {"domain": [-65, 65], "nice": false, "zero": false}, "axis": {"orient": "bottom", "values": [-55,-50,-45,-35,-30,-25,-15,-10,-5,5,10,15,25,30,35,45,50,55], "labels": false, "tickSize": -4, "title": null}},
        "y": {"datum": 0.771, "type": "quantitative", "scale": {"domain": [0.75, 1.1], "nice": false, "zero": false}, "axis": {"orient": "left", "values": [0.76,0.77,0.78,0.79,0.81,0.82,0.83,0.84,0.86,0.87,0.88,0.89,0.91,0.92,0.93,0.94,0.96,0.97,0.98,0.99,1.01,1.02,1.03,1.04,1.06,1.07,1.08,1.09], "labels": false, "tickSize": -11, "title": null}}
      }
    },
    {
      "data": {"name": "ch2"},
      "mark": {"type": "point", "opacity": 0},
      "encoding": {
        "x": {"field": "x", "type": "quantitative", "scale": {"domain": [-65, 65], "nice": false, "zero": false}, "axis": {"orient": "top", "values": [-60,-40,-20,0,20,40,60], "labels": false, "tickSize": -8, "title": null}},
        "y": {"field": "y", "type": "quantitative", "scale": {"domain": [0.75, 1.1], "nice": false, "zero": false}, "axis": {"orient": "right", "values": [0.8,0.85,0.9,0.95,1.0,1.05], "labels": false, "tickSize": -26, "title": null}}
      }
    },
    {
      "data": {"name": "ch2"},
      "mark": {"type": "point", "opacity": 0},
      "encoding": {
        "x": {"field": "x", "type": "quantitative", "scale": {"domain": [-65, 65], "nice": false, "zero": false}, "axis": {"orient": "top", "values": [-55,-50,-45,-35,-30,-25,-15,-10,-5,5,10,15,25,30,35,45,50,55], "labels": false, "tickSize": -4, "title": null}},
        "y": {"field": "y", "type": "quantitative", "scale": {"domain": [0.75, 1.1], "nice": false, "zero": false}, "axis": {"orient": "right", "values": [0.76,0.77,0.78,0.79,0.81,0.82,0.83,0.84,0.86,0.87,0.88,0.89,0.91,0.92,0.93,0.94,0.96,0.97,0.98,0.99,1.01,1.02,1.03,1.04,1.06,1.07,1.08,1.09], "labels": false, "tickSize": -13, "title": null}}
      }
    }
  ]
}
]
}
